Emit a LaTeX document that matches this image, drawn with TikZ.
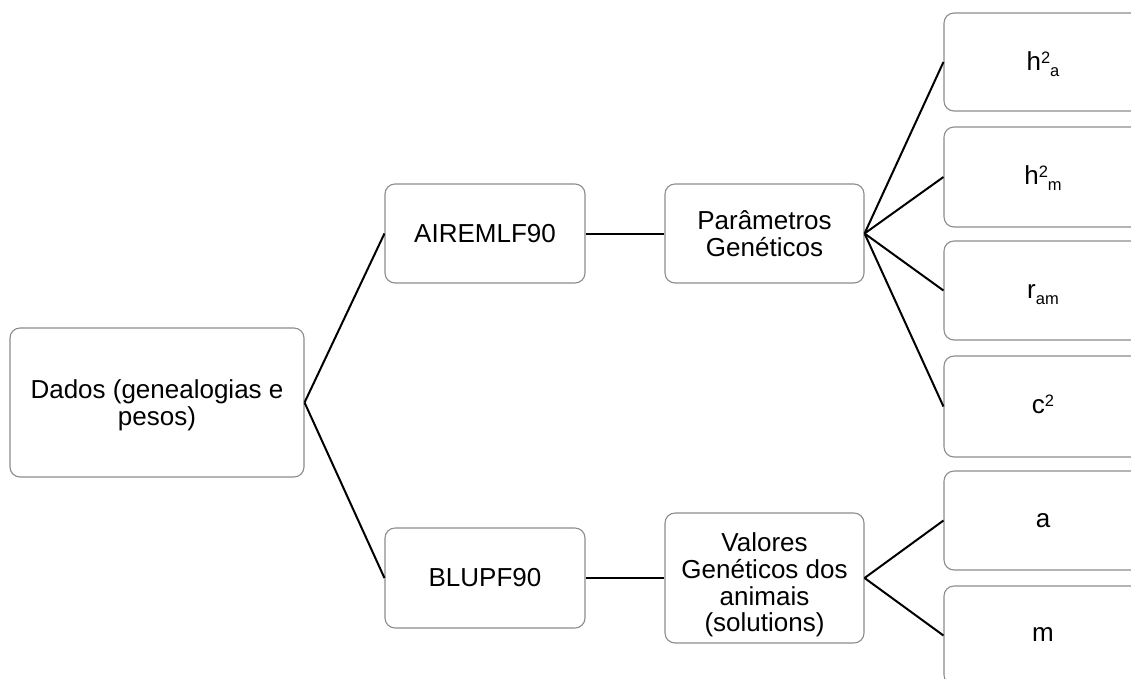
\documentclass[tikz,border=0pt]{standalone}
\usepackage{fontspec}
\setmainfont{Liberation Sans}
\newcommand{\supsc}[1]{\raisebox{0.27em}{\fontsize{16.5}{16.5}\selectfont #1}}
\newcommand{\subsc}[1]{\raisebox{-0.22em}{\fontsize{16.5}{16.5}\selectfont #1}}
\newcommand{\lbl}[2]{\raisebox{#1}[\height][\depth]{\begin{tabular}{@{}c@{}}#2\end{tabular}}}
\begin{document}
\begin{tikzpicture}[x=1pt,y=-1pt,
  box/.style={draw=black!45,line width=1.1pt,rounded corners=10pt,fill=white,
    align=center,inner sep=0pt,font=\fontsize{26}{26.7}\selectfont},
  link/.style={draw=black,line width=2pt}]
\clip (0,0) rectangle (1131,678);
\fill[white] (0,0) rectangle (1131,678);
\node[box,minimum width=294pt,minimum height=149pt] (dados) at (157,402.5) {\lbl{-4pt}{Dados (genealogias e\\pesos)}};
\node[box,minimum width=200pt,minimum height=99pt] (airem) at (485,233.5) {AIREMLF90};
\node[box,minimum width=199pt,minimum height=99pt] (param) at (764.5,233.5) {Parâmetros\\Genéticos};
\node[box,minimum width=200pt,minimum height=100pt] (blup) at (485,578) {BLUPF90};
\node[box,minimum width=199pt,minimum height=130pt] (valor) at (764.5,578) {\lbl{-8pt}{Valores\\Genéticos dos\\animais\\(solutions)}};
\node[box,minimum width=198pt,minimum height=98pt] (h2a) at (1043,62) {\lbl{-3pt}{h\supsc{2}\subsc{a}}};
\node[box,minimum width=198pt,minimum height=100pt] (h2m) at (1043,177) {\lbl{-2pt}{h\supsc{2}\subsc{m}}};
\node[box,minimum width=198pt,minimum height=99pt] (ram) at (1043,290.5) {\lbl{-3pt}{r\subsc{am}}};
\node[box,minimum width=198pt,minimum height=101pt] (c2) at (1043,406.5) {\lbl{-2pt}{c\supsc{2}}};
\node[box,minimum width=198pt,minimum height=99pt] (a) at (1043,520.5) {\lbl{-2pt}{a}};
\node[box,minimum width=198pt,minimum height=99pt] (m) at (1043,635.5) {\lbl{-1pt}{m}};
\draw[link] (dados.east) -- (airem.west);
\draw[link] (dados.east) -- (blup.west);
\draw[link] (airem.east) -- (param.west);
\draw[link] (blup.east) -- (valor.west);
\draw[link] (param.east) -- (h2a.west);
\draw[link] (param.east) -- (h2m.west);
\draw[link] (param.east) -- (ram.west);
\draw[link] (param.east) -- (c2.west);
\draw[link] (valor.east) -- (a.west);
\draw[link] (valor.east) -- (m.west);
\end{tikzpicture}
\end{document}
